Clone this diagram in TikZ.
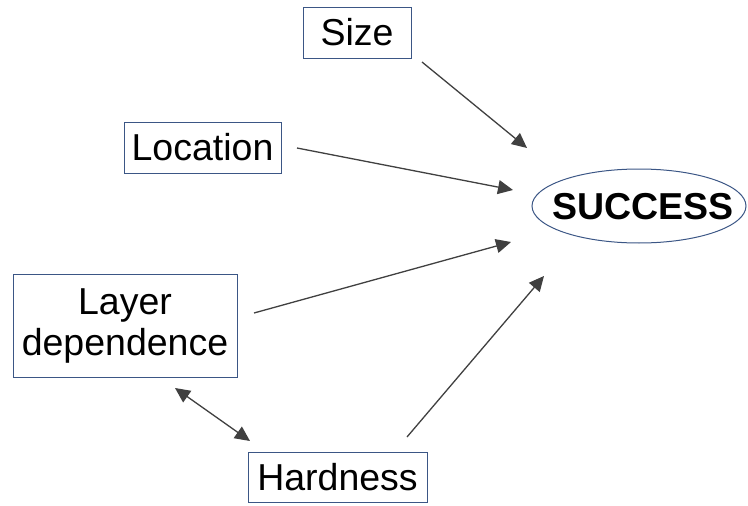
\documentclass[tikz,border=0pt]{standalone}
\usepackage{fontspec}
\setmainfont{Liberation Sans}
\usepackage{xcolor}
\usetikzlibrary{shapes, arrows.meta, calc}
\definecolor{boxblue}{HTML}{3B5685}
\definecolor{arrowgray}{HTML}{404040}

\begin{document}
\begin{tikzpicture}%
	[x=1pt, y=-1pt,
	factor/.style={draw=boxblue, line width=1pt, inner sep=0pt, align=center,
		font=\fontsize{37.5}{41}\selectfont},
	goal/.style={inner sep=0pt, font=\fontsize{37.5}{41}\selectfont\bfseries},
	rim/.style={draw=boxblue, line width=1pt},
	link/.style={color=arrowgray, line width=1.3pt, -{Triangle[length=15pt, width=14pt]}},
	mutual/.style={color=arrowgray, line width=1.3pt, {Triangle[length=15pt, width=14pt]}-{Triangle[length=15pt, width=14pt]}}]
%
\useasboundingbox (0,0) rectangle (748,506);
%%
%% The factors and the goal
%%
\node[factor, minimum width=108pt, minimum height=51pt] (size) at (357,32.5) {Size};
\node[factor, minimum width=157pt, minimum height=51pt] (location) at (202.5,147.5) {Location};
\node[factor, minimum width=224pt, minimum height=103pt] (layer) at (125,325.5) {Layer\\dependence};
\node[factor, minimum width=179pt, minimum height=50pt] (hardness) at (337.5,477) {Hardness};
\node[goal] (success) at (643,207) {SUCCESS};
\draw[rim] (639,206) ellipse [x radius=107pt, y radius=37pt];
%%
%% Free ends of the arrows
%%
\coordinate (size-out) at (422,62);
\coordinate (location-out) at (297,148);
\coordinate (layer-out) at (254,313);
\coordinate (hardness-out) at (407,437);
\coordinate (success-in-a) at (527,148);
\coordinate (success-in-b) at (513,190);
\coordinate (success-in-c) at (511,242);
\coordinate (success-in-d) at (544,276);
\coordinate (layer-in) at (175,388);
\coordinate (hardness-in) at (250,441);
%%
%% Drawing the arrows
%%
\draw[link] (size-out) -- (success-in-a);
\draw[link] (location-out) -- (success-in-b);
\draw[link] (layer-out) -- (success-in-c);
\draw[link] (hardness-out) -- (success-in-d);
\draw[mutual] (layer-in) -- (hardness-in);
%%
\end{tikzpicture}
\end{document}
